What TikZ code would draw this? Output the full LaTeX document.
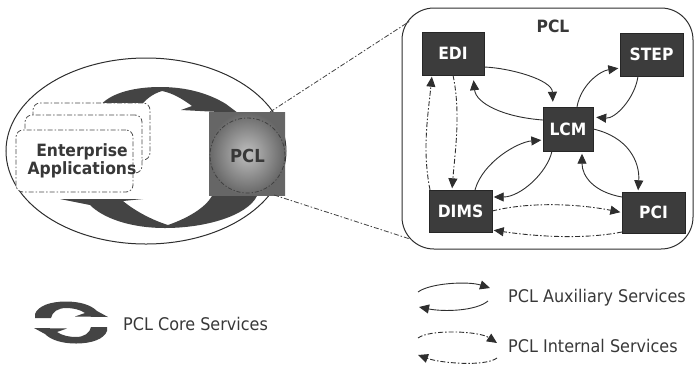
\documentclass[tikz,border=0pt]{standalone}
\usepackage{fontspec}
\setmainfont{DejaVu Sans}[FakeStretch=0.92]
\usetikzlibrary{arrows.meta,shapes.geometric}
\definecolor{boxfill}{HTML}{3C3C3C}
\definecolor{linec}{HTML}{2E2E2E}
\definecolor{arrowfill}{HTML}{444444}
\definecolor{txtc}{HTML}{383838}
\begin{document}
\begin{tikzpicture}[x=1bp,y=-1bp,
  modbox/.style={draw=black!85, fill=boxfill, inner sep=0pt,
    minimum width=63bp, minimum height=43bp,
    font=\fontsize{17}{17}\selectfont\bfseries, text=white},
  aux/.style={draw=linec, line width=0.9bp, -{Triangle[length=10bp,width=9bp]}, shorten >=1.5bp},
  internal/.style={aux, dash pattern=on 5bp off 2bp on 1.5bp off 2bp},
  eabox/.style={draw=black!70, fill=white, rounded corners=7bp, line width=0.8bp,
    dash pattern=on 5bp off 2bp on 1.5bp off 2bp, inner sep=0pt},
  zoomline/.style={draw=black!75, line width=0.8bp, dash pattern=on 5bp off 2bp on 1.5bp off 2bp},
  legendtxt/.style={font=\fontsize{17.5}{17.5}\selectfont, text=txtc, anchor=base west, inner sep=0pt},
  corefill/.style={fill=arrowfill, draw=none}
]
\useasboundingbox (0,0) rectangle (695,367);

% ---------- left: enterprise ring ----------
\node[draw=linec, line width=1bp, ellipse, minimum width=280bp, minimum height=186bp, inner sep=0pt] (ring) at (146,151) {};

% core services arrows (main)
\fill[corefill] (100,150) -- (100,106) .. controls (108,95) and (130,87) .. (160,87)
  .. controls (186,87) and (208,93) .. (226,104) -- (238,113) -- (181,110) -- (192,106)
  .. controls (184,100) and (173,93) .. (162,91) .. controls (152,94) and (145,100) .. (140,107)
  -- (140,150) -- cycle;
\fill[corefill] (258,150) -- (257,196) .. controls (247,216) and (205,228) .. (165,228)
  .. controls (130,228) and (103,218) .. (90,205) -- (60,199) -- (143,199) -- (123,201)
  .. controls (135,211) and (152,220) .. (168,225) .. controls (188,218) and (205,208) .. (212,196)
  -- (212,150) -- cycle;

% enterprise application boxes
\node[eabox, minimum width=117bp, minimum height=57bp] (eaback) at (91.5,131.5) {};
\node[eabox, minimum width=117bp, minimum height=58bp] (eamid) at (83.5,144) {};
\node[eabox, minimum width=117bp, minimum height=62bp] (eafront) at (74.5,161) {};
\node[align=center, text=txtc, inner sep=0pt, font=\fontsize{17}{15}\selectfont\bfseries] (ealabel) at (82,161) {Enterprise\\Applications};

% PCL square
\node[minimum width=76bp, minimum height=83bp, inner sep=0pt, shading=radial,
  inner color=black!25, outer color=black!60] (pclsq) at (247,153.5) {};
\node[circle, draw=black!75, line width=0.8bp, dash pattern=on 4bp off 2bp on 1.2bp off 2bp,
  minimum size=75bp, inner sep=0pt] (pclcirc) at (247.5,155.5) {};
\node[text=txtc, inner sep=0pt, font=\fontsize{18}{18}\selectfont\bfseries] (pcllabel) at (247.5,155.5) {PCL};

% ---------- right: PCL panel ----------
\node[draw=linec, line width=1bp, rounded corners=32bp, minimum width=291bp, minimum height=241bp, inner sep=0pt] (panel) at (547.5,128.5) {};
\node[text=txtc, inner sep=0pt, font=\fontsize{17}{17}\selectfont\bfseries] (paneltitle) at (553,26) {PCL};

\coordinate (zt) at (270,112);
\coordinate (zte) at (410,21);
\coordinate (zb) at (274,195);
\coordinate (zbe) at (410,239);
\draw[zoomline] (zt) -- (zte);
\draw[zoomline] (zb) -- (zbe);

\node[modbox, minimum width=62bp] (edi) at (453,53.5) {EDI};
\node[modbox] (step) at (651.5,54.5) {STEP};
\node[modbox, minimum width=50bp, minimum height=44bp] (lcm) at (568,129) {LCM};
\node[modbox, minimum height=42bp] (dims) at (460.5,211) {DIMS};
\node[modbox, minimum height=41bp] (pci) at (653.5,212.5) {PCI};

% auxiliary services
\draw[aux, shorten >=5bp] ([yshift=-13.5bp]edi.east) .. controls +(26,1) and +(-1,-27) .. ([xshift=-15bp]lcm.north);
\draw[aux, shorten >=5bp] ([yshift=9bp]lcm.west) .. controls +(-40,-3) and +(3,28) .. ([xshift=20bp]edi.south);
\draw[aux] ([xshift=9bp]lcm.north) .. controls +(4,-22) and +(-20,3) .. ([yshift=-13.5bp]step.west);
\draw[aux, shorten >=3bp] ([xshift=-13.5bp]step.south) .. controls +(-3,22) and +(22,2) .. ([yshift=12bp]lcm.east);
\draw[aux] (lcm.east) .. controls +(35,8) and +(2,-30) .. ([xshift=-15.5bp]pci.north);
\draw[aux, shorten >=2.5bp] ([yshift=15.5bp]pci.west) .. controls +(-28,-5) and +(0,25) .. ([xshift=14bp]lcm.south);
\draw[aux] ([xshift=-16bp]lcm.south) .. controls +(-5,22) and +(28,0) .. ([yshift=14bp]dims.east);
\draw[aux] ([xshift=14.5bp]dims.north) .. controls +(8,-28) and +(-25,2) .. ([yshift=-11bp]lcm.west);

% internal services
\draw[internal] (edi.south) .. controls +(8,38) and +(3,-38) .. ([xshift=-8.5bp]dims.north);
\draw[internal] ([xshift=-30.5bp]dims.north) .. controls +(-8,-40) and +(-4,40) .. ([xshift=-21bp]edi.south);
\draw[internal] (dims.east) .. controls +(40,-10) and +(-40,-8) .. (pci.west);
\draw[internal] ([yshift=-19.5bp]pci.west) .. controls +(-40,8) and +(40,6) .. ([yshift=-19bp]dims.east);

% ---------- legend ----------
\fill[corefill] (35,318) -- (35,314) .. controls (38,306) and (50,301.5) .. (66,301.5)
  .. controls (80,301.5) and (91,305) .. (97,311) -- (108,317) -- (75,316.5) -- (85,313)
  .. controls (80,309.5) and (73,308) .. (66,308) .. controls (58,308) and (52,312) .. (51,318) -- cycle;
\begin{scope}[rotate around={180:(71,322.5)}]
\fill[corefill] (35,318) -- (35,314) .. controls (38,306) and (50,301.5) .. (66,301.5)
  .. controls (80,301.5) and (91,305) .. (97,311) -- (108,317) -- (75,316.5) -- (85,313)
  .. controls (80,309.5) and (73,308) .. (66,308) .. controls (58,308) and (52,312) .. (51,318) -- cycle;
\end{scope}
\node[legendtxt] (coretxt) at (123,330) {PCL Core Services};

\coordinate (a1s) at (418,292);
\coordinate (a1e) at (490,288);
\coordinate (a2s) at (488,301);
\coordinate (a2e) at (419,307);
\draw[aux, shorten >=0bp] (a1s) .. controls +(12,-9) and +(-22,-7) .. (a1e);
\draw[aux, shorten >=0bp] (a2s) .. controls +(-12,10) and +(25,5) .. (a2e);
\node[legendtxt] (auxtxt) at (508,302.5) {PCL Auxiliary Services};

\coordinate (i1s) at (418,338);
\coordinate (i1e) at (497,343);
\coordinate (i2s) at (497,358);
\coordinate (i2e) at (418,355);
\draw[internal, shorten >=0bp] (i1s) .. controls +(12,-9) and +(-18,-12) .. (i1e);
\draw[internal, shorten >=0bp] (i2s) .. controls +(-12,9) and +(22,8) .. (i2e);
\node[legendtxt] (inttxt) at (508,352.5) {PCL Internal Services};
\end{tikzpicture}
\end{document}
